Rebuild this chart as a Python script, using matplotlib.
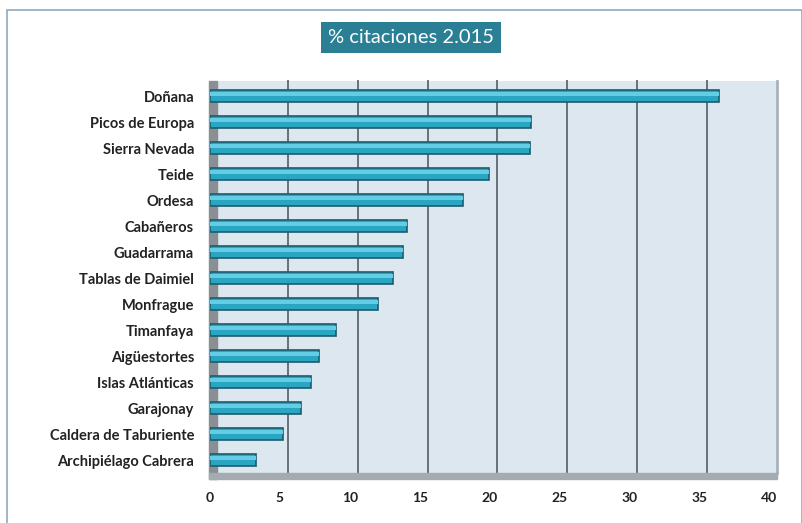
import numpy as np
import matplotlib
matplotlib.use("Agg")
import matplotlib.pyplot as plt
from matplotlib.patches import Rectangle
from matplotlib.transforms import ScaledTranslation

## data
parques = ["Doñana", "Picos de Europa", "Sierra Nevada", "Teide", "Ordesa",
           "Cabañeros", "Guadarrama", "Tablas de Daimiel", "Monfrague",
           "Timanfaya", "Aigüestortes", "Islas Atlánticas", "Garajonay",
           "Caldera de Taburiente", "Archipiélago Cabrera"]
citaciones = [36.4, 23.0, 22.9, 20.0, 18.1, 14.1, 13.8, 13.1, 12.0,
              9.0, 7.8, 7.2, 6.5, 5.2, 3.3]
ticks = [0, 5, 10, 15, 20, 25, 30, 35, 40]

plt.rcParams['font.family'] = ['Lato', 'DejaVu Sans']

fig = plt.figure(figsize=(8.03, 5.23), dpi=100)
fig.patch.set_facecolor('white')

# outer frame
fig.patches.append(Rectangle((0.009, -0.01), 0.99, 0.99, transform=fig.transFigure,
                             fill=False, edgecolor='#8fa9c0', lw=1.2))

# front plane of the 3d box
ax = fig.add_axes([0.2615, 0.0956, 0.6961, 0.7457])
ax.set_facecolor('none')
back = ScaledTranslation(8 / 100, 0, fig.dpi_scale_trans)  # back wall shift

# back wall
ax.add_patch(Rectangle((0, 0), 1, 1.005, transform=ax.transAxes + back,
                       facecolor='#dde7ef', edgecolor='none', clip_on=False, zorder=0))
gtrans = ax.get_xaxis_transform() + back
for t in ticks[1:-1]:
    ax.plot([t, t], [0, 1.005], color='#66727b', lw=1.4, zorder=1,
            transform=gtrans, clip_on=False)
ax.plot([40, 40], [0, 1.005], color='#a9b2b9', lw=2, zorder=1,
        transform=gtrans, clip_on=False)

# left wall and floor
ax.add_patch(Rectangle((-0.002, -0.015), 0.0145, 1.02, transform=ax.transAxes,
                       color='#8a8f94', clip_on=False, zorder=2))
ax.add_patch(Rectangle((-0.002, -0.016), 1.016, 0.016, transform=ax.transAxes,
                       color='#a4abb1', clip_on=False, zorder=2))

y = np.arange(len(parques))
# 3d-ish cylinder bars
ax.barh(y, citaciones, height=0.46, color='#2aa5c2', edgecolor='#1b5c6d', lw=1.2, zorder=3)
ax.barh(y - 0.08, citaciones, height=0.13, color='#62cde5', lw=0, zorder=4)

ax.set_xlim(0, 40)
ax.set_ylim(len(parques) - 0.5, -0.5)
ax.set_yticks(y)
ax.set_yticklabels(parques, fontsize=10.5, fontweight='bold', color='#222222')
ax.set_xticks(ticks)
ax.set_xticklabels([str(t) for t in ticks], fontsize=10, fontweight='bold', color='#222222')
ax.tick_params(length=0)
ax.tick_params(axis='y', pad=11.5)
ax.tick_params(axis='x', pad=14)

for s in ax.spines.values():
    s.set_visible(False)

fig.text(0.5118, 0.9283, "% citaciones 2.015", fontsize=14.5, color='white',
         ha='center', va='center',
         bbox=dict(boxstyle='square,pad=0.35', facecolor='#2a7f95', edgecolor='none'))

plt.savefig('out.png', dpi=100)
